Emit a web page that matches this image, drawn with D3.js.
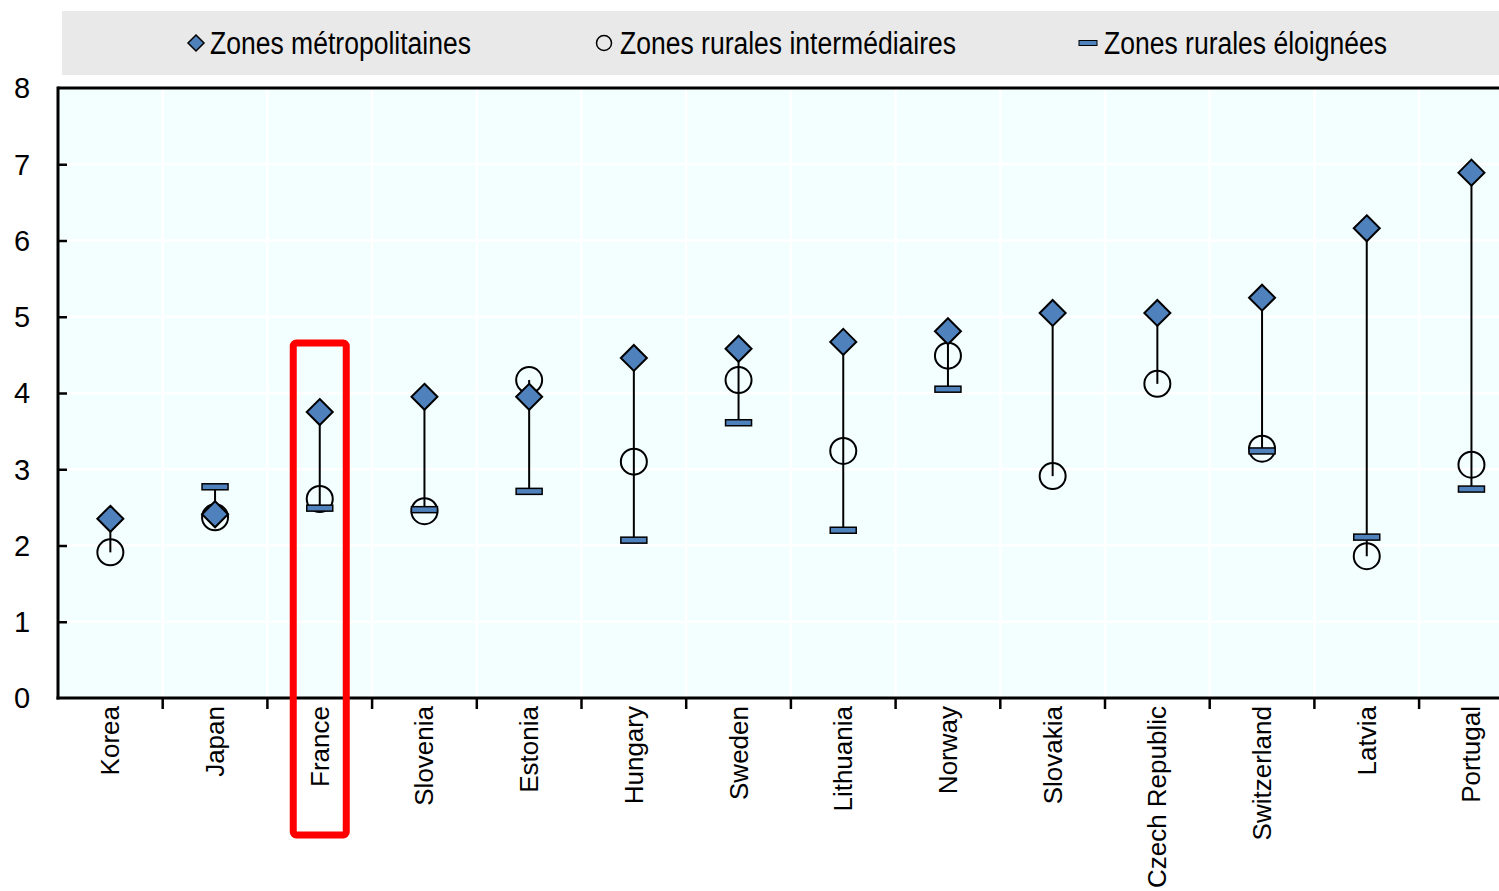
<!DOCTYPE html>
<html>
<head>
<meta charset="utf-8">
<script src="https://cdn.jsdelivr.net/npm/d3@7"></script>
<style>
  html, body { margin: 0; padding: 0; background: #fff; }
  svg { display: block; }
</style>
</head>
<body>
<svg id="chart" width="1499" height="891"></svg>
<script>
// Countries along the x axis
const categories = ["Korea", "Japan", "France", "Slovenia", "Estonia", "Hungary", "Sweden",
  "Lithuania", "Norway", "Slovakia", "Czech Republic", "Switzerland", "Latvia", "Portugal"];

// Series values (null where a region type has no data)
const metropolitan = [2.35, 2.41, 3.75, 3.95, 3.95, 4.46, 4.58, 4.67, 4.81, 5.05, 5.05, 5.25, 6.16, 6.89];
const intermediate = [1.91, 2.37, 2.61, 2.45, 4.17, 3.10, 4.17, 3.24, 4.49, 2.91, 4.12, 3.27, 1.86, 3.06];
const remote       = [null, 2.77, 2.49, 2.47, 2.71, 2.07, 3.61, 2.20, 4.05, null, null, 3.24, 2.11, 2.74];

const yTicks = [0, 1, 2, 3, 4, 5, 6, 7, 8];
const legendLabels = ["Zones métropolitaines", "Zones rurales intermédiaires", "Zones rurales éloignées"];
const highlighted = "France";

const svg = d3.select("#chart");
const plotLeft = 58, plotTop = 88, plotBottom = 698, bandW = 104.7;
const plotRight = plotLeft + bandW * categories.length;

const x = d3.scaleBand().domain(categories).range([plotLeft, plotRight]).padding(0);
const y = d3.scaleLinear().domain([0, 8]).range([plotBottom, plotTop]);

const blue = "#4F81BD";

// Legend strip
const legend = svg.append("g");
legend.append("rect").attr("x", 62).attr("y", 11).attr("width", 1499 - 62).attr("height", 64).attr("fill", "#E9E9E9");
const legendFont = "'Liberation Sans Narrow', 'Arial Narrow', 'Liberation Sans', Arial, sans-serif";
const legendItems = [
  { mx: 196, tx: 210, w: 261, kind: "diamond" },
  { mx: 604, tx: 620, w: 336, kind: "circle" },
  { mx: 1088, tx: 1104, w: 283, kind: "bar" }
];
legendItems.forEach((it, i) => {
  const cy = 43;
  if (it.kind === "diamond") {
    legend.append("path").attr("d", `M${it.mx},${cy - 8}L${it.mx + 8},${cy}L${it.mx},${cy + 8}L${it.mx - 8},${cy}Z`)
      .attr("fill", blue).attr("stroke", "#000").attr("stroke-width", 1.5);
  } else if (it.kind === "circle") {
    legend.append("circle").attr("cx", it.mx).attr("cy", cy).attr("r", 7.5)
      .attr("fill", "none").attr("stroke", "#000").attr("stroke-width", 1.5);
  } else {
    legend.append("rect").attr("x", it.mx - 9).attr("y", cy - 2.5).attr("width", 18).attr("height", 5)
      .attr("fill", blue).attr("stroke", "#000").attr("stroke-width", 1);
  }
  legend.append("text").attr("x", it.tx).attr("y", 54)
    .attr("font-family", legendFont).attr("font-size", 31)
    .attr("textLength", it.w).attr("lengthAdjust", "spacingAndGlyphs")
    .attr("fill", "#000").text(legendLabels[i]);
});

// Plot background
svg.append("rect").attr("x", plotLeft).attr("y", plotTop).attr("width", plotRight - plotLeft).attr("height", plotBottom - plotTop)
  .attr("fill", "#F3FEFE");

// White grid lines
const grid = svg.append("g").attr("stroke", "#fff").attr("stroke-width", 2.5);
yTicks.slice(1, -1).forEach(t => {
  grid.append("line").attr("x1", plotLeft).attr("x2", plotRight).attr("y1", y(t)).attr("y2", y(t));
});
categories.slice(1).forEach(c => {
  grid.append("line").attr("x1", x(c)).attr("x2", x(c)).attr("y1", plotTop).attr("y2", plotBottom);
});

// Top border
svg.append("line").attr("x1", plotLeft).attr("x2", plotRight).attr("y1", plotTop).attr("y2", plotTop)
  .attr("stroke", "#000").attr("stroke-width", 3);

// Y axis: inward ticks, labels at the far left
const yAxis = d3.axisRight(y).tickValues(yTicks).tickSize(9).tickFormat("");
const yg = svg.append("g").attr("transform", `translate(${plotLeft},0)`).call(yAxis);
yg.select(".domain").remove();
yg.selectAll(".tick line").attr("stroke", "#000").attr("stroke-width", 2.5)
  .filter(d => d === 0 || d === 8).remove();
svg.append("line").attr("x1", plotLeft).attr("x2", plotLeft).attr("y1", plotTop - 1.5).attr("y2", plotBottom + 1.5)
  .attr("stroke", "#000").attr("stroke-width", 3);
svg.append("g").selectAll("text").data(yTicks).join("text")
  .attr("x", 22).attr("y", d => y(d)).attr("dy", "0.36em").attr("text-anchor", "middle")
  .attr("font-family", "'Liberation Sans', Arial, sans-serif").attr("font-size", 29).attr("fill", "#000")
  .text(d => d);

// X axis with ticks on category boundaries
const xg = svg.append("g");
xg.append("line").attr("x1", plotLeft - 1.5).attr("x2", plotRight).attr("y1", plotBottom).attr("y2", plotBottom)
  .attr("stroke", "#000").attr("stroke-width", 3);
xg.selectAll("line.tk").data(categories.slice(1)).join("line").attr("class", "tk")
  .attr("x1", d => x(d)).attr("x2", d => x(d)).attr("y1", plotBottom).attr("y2", plotBottom + 11)
  .attr("stroke", "#000").attr("stroke-width", 2.5);
xg.selectAll("text").data(categories).join("text")
  .attr("transform", d => `translate(${x(d) + x.bandwidth() / 2 + 9},${plotBottom + 8}) rotate(-90)`)
  .attr("text-anchor", "end")
  .attr("font-family", "'Liberation Sans', Arial, sans-serif").attr("font-size", 26).attr("fill", "#000")
  .text(d => d);

// Marks
const rows = categories.map((c, i) => ({ c, m: metropolitan[i], r: intermediate[i], e: remote[i] }));
const cx = d => x(d.c) + x.bandwidth() / 2;
const marks = svg.append("g");

// High–low connector
marks.selectAll("line.hl").data(rows).join("line").attr("class", "hl")
  .attr("x1", cx).attr("x2", cx)
  .attr("y1", d => y(d3.max([d.m, d.r, d.e].filter(v => v != null))))
  .attr("y2", d => y(d3.min([d.m, d.r, d.e].filter(v => v != null))))
  .attr("stroke", "#000").attr("stroke-width", 2);

// Intermediate rural: open circles
marks.selectAll("circle").data(rows.filter(d => d.r != null)).join("circle")
  .attr("cx", cx).attr("cy", d => y(d.r)).attr("r", 13)
  .attr("fill", "none").attr("stroke", "#000").attr("stroke-width", 2);

// Remote rural: flat bars
marks.selectAll("rect.rem").data(rows.filter(d => d.e != null)).join("rect").attr("class", "rem")
  .attr("x", d => cx(d) - 13).attr("y", d => y(d.e) - 3).attr("width", 26).attr("height", 6)
  .attr("fill", blue).attr("stroke", "#000").attr("stroke-width", 1.5);

// Metropolitan: diamonds
marks.selectAll("path.dia").data(rows.filter(d => d.m != null)).join("path").attr("class", "dia")
  .attr("d", d => { const px = cx(d), py = y(d.m), s = 13;
    return `M${px},${py - s}L${px + s},${py}L${px},${py + s}L${px - s},${py}Z`; })
  .attr("fill", blue).attr("stroke", "#000").attr("stroke-width", 2);

// Highlight frame around one country
const hx = x(highlighted) + x.bandwidth() / 2;
svg.append("rect").attr("x", hx - 26.5).attr("y", 343).attr("width", 53).attr("height", 492)
  .attr("rx", 3).attr("fill", "none").attr("stroke", "#FF0000").attr("stroke-width", 7);
</script>
</body>
</html>
